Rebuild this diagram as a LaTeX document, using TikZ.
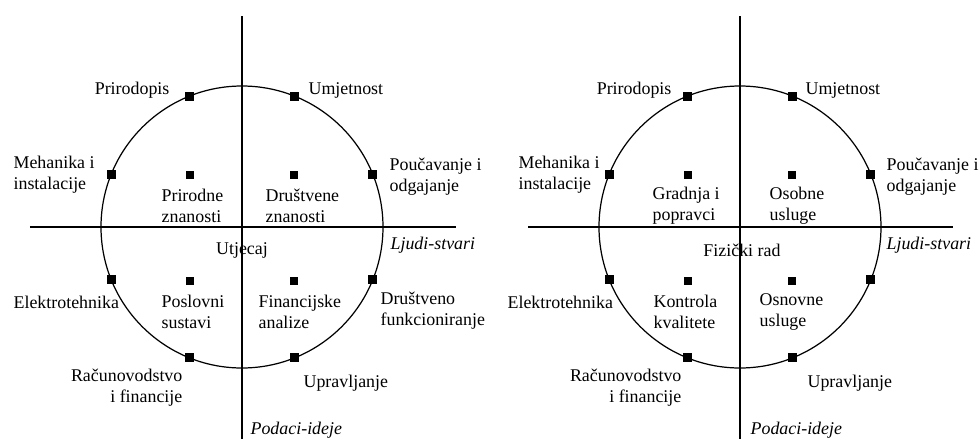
\documentclass[tikz,border=0pt]{standalone}
\usepackage{fontspec}
\setmainfont{Liberation Serif}
\tikzset{
  tocka/.style={fill=black, inner sep=0pt, minimum size=5pt},
  oznaka/.style={inner sep=0pt, font=\fontsize{10.2}{12}\selectfont},
  lijevo/.style={oznaka, anchor=west, align=left},
  desno/.style={oznaka, anchor=east, align=right},
}
\begin{document}
\begin{tikzpicture}[x=0.57pt,y=0.57pt,line width=0.7pt]
  \useasboundingbox (-242,-212) rectangle (738,227);
  %% lijevi krug
  \begin{scope}
    \coordinate (L-s) at (0,0);
    \coordinate (L-gore) at (0,211);
    \coordinate (L-dolje) at (0,-212);
    \coordinate (L-lijevo) at (-212,0);
    \coordinate (L-desno) at (214,0);
    \draw (L-gore) -- (L-dolje);
    \draw (L-lijevo) -- (L-desno);
    \draw (L-s) circle (141);
    %%
    \node[tocka] (L-t1) at (112:141) {};
    \node[tocka] (L-t2) at (68:141) {};
    \node[tocka] (L-t3) at (158:141) {};
    \node[tocka] (L-t4) at (22:141) {};
    \node[tocka] (L-t5) at (202:141) {};
    \node[tocka] (L-t6) at (338:141) {};
    \node[tocka] (L-t7) at (248:141) {};
    \node[tocka] (L-t8) at (292:141) {};
    \node[tocka] (L-u1) at (-52,52) {};
    \node[tocka] (L-u2) at (52,52) {};
    \node[tocka] (L-u3) at (-52,-54) {};
    \node[tocka] (L-u4) at (52,-54) {};
    %%
    \node[desno] (L-prirodopis) at (-72,137) {Prirodopis};
    \node[lijevo] (L-umjetnost) at (66,137) {Umjetnost};
    \node[lijevo] (L-mehanika) at (-229,52) {Mehanika i\\instalacije};
    \node[lijevo] (L-poucavanje) at (147,50) {Poučavanje i\\odgajanje};
    \node[lijevo] (L-prirodne) at (-81,21) {Prirodne\\znanosti};
    \node[lijevo] (L-drustvene) at (23,21) {Društvene\\znanosti};
    \node[oznaka] (L-utjecaj) at (0,-23) {Utjecaj};
    \node[lijevo] (L-ljudi) at (148,-18) {\textit{Ljudi-stvari}};
    \node[lijevo] (L-elektro) at (-229,-75) {Elektrotehnika};
    \node[lijevo] (L-poslovni) at (-81,-85) {Poslovni\\sustavi};
    \node[lijevo] (L-financijske) at (16,-85) {Financijske\\analize};
    \node[lijevo] (L-funkc) at (138,-84) {Društveno\\funkcioniranje};
    \node[desno] (L-racun) at (-59,-161) {Računovodstvo\\i financije};
    \node[lijevo] (L-upravljanje) at (61,-156) {Upravljanje};
    \node[lijevo] (L-podaci) at (8,-203) {\textit{Podaci-ideje}};
  \end{scope}
  %% desni krug
  \begin{scope}[shift={(498,0)}]
    \coordinate (R-s) at (0,0);
    \coordinate (R-gore) at (0,211);
    \coordinate (R-dolje) at (0,-212);
    \coordinate (R-lijevo) at (-212,0);
    \coordinate (R-desno) at (213,0);
    \draw (R-gore) -- (R-dolje);
    \draw (R-lijevo) -- (R-desno);
    \draw (R-s) circle (141);
    %%
    \node[tocka] (R-t1) at (112:141) {};
    \node[tocka] (R-t2) at (68:141) {};
    \node[tocka] (R-t3) at (158:141) {};
    \node[tocka] (R-t4) at (22:141) {};
    \node[tocka] (R-t5) at (202:141) {};
    \node[tocka] (R-t6) at (338:141) {};
    \node[tocka] (R-t7) at (248:141) {};
    \node[tocka] (R-t8) at (292:141) {};
    \node[tocka] (R-u1) at (-52,52) {};
    \node[tocka] (R-u2) at (52,52) {};
    \node[tocka] (R-u3) at (-52,-54) {};
    \node[tocka] (R-u4) at (52,-54) {};
    %%
    \node[desno] (R-prirodopis) at (-68,137) {Prirodopis};
    \node[lijevo] (R-umjetnost) at (65,137) {Umjetnost};
    \node[lijevo] (R-mehanika) at (-222,52) {Mehanika i\\instalacije};
    \node[lijevo] (R-poucavanje) at (146,50) {Poučavanje i\\odgajanje};
    \node[lijevo] (R-gradnja) at (-88,21) {Gradnja i\\popravci};
    \node[lijevo] (R-osobne) at (29,21) {Osobne\\usluge};
    \node[oznaka] (R-fizicki) at (2,-23) {Fizički rad};
    \node[lijevo] (R-ljudi) at (146,-18) {\textit{Ljudi-stvari}};
    \node[lijevo] (R-elektro) at (-233,-75) {Elektrotehnika};
    \node[lijevo] (R-kontrola) at (-87,-85) {Kontrola\\kvalitete};
    \node[lijevo] (R-osnovne) at (19,-85) {Osnovne\\usluge};
    \node[desno] (R-racun) at (-58,-161) {Računovodstvo\\i financije};
    \node[lijevo] (R-upravljanje) at (67,-156) {Upravljanje};
    \node[lijevo] (R-podaci) at (10,-203) {\textit{Podaci-ideje}};
  \end{scope}
\end{tikzpicture}
\end{document}
